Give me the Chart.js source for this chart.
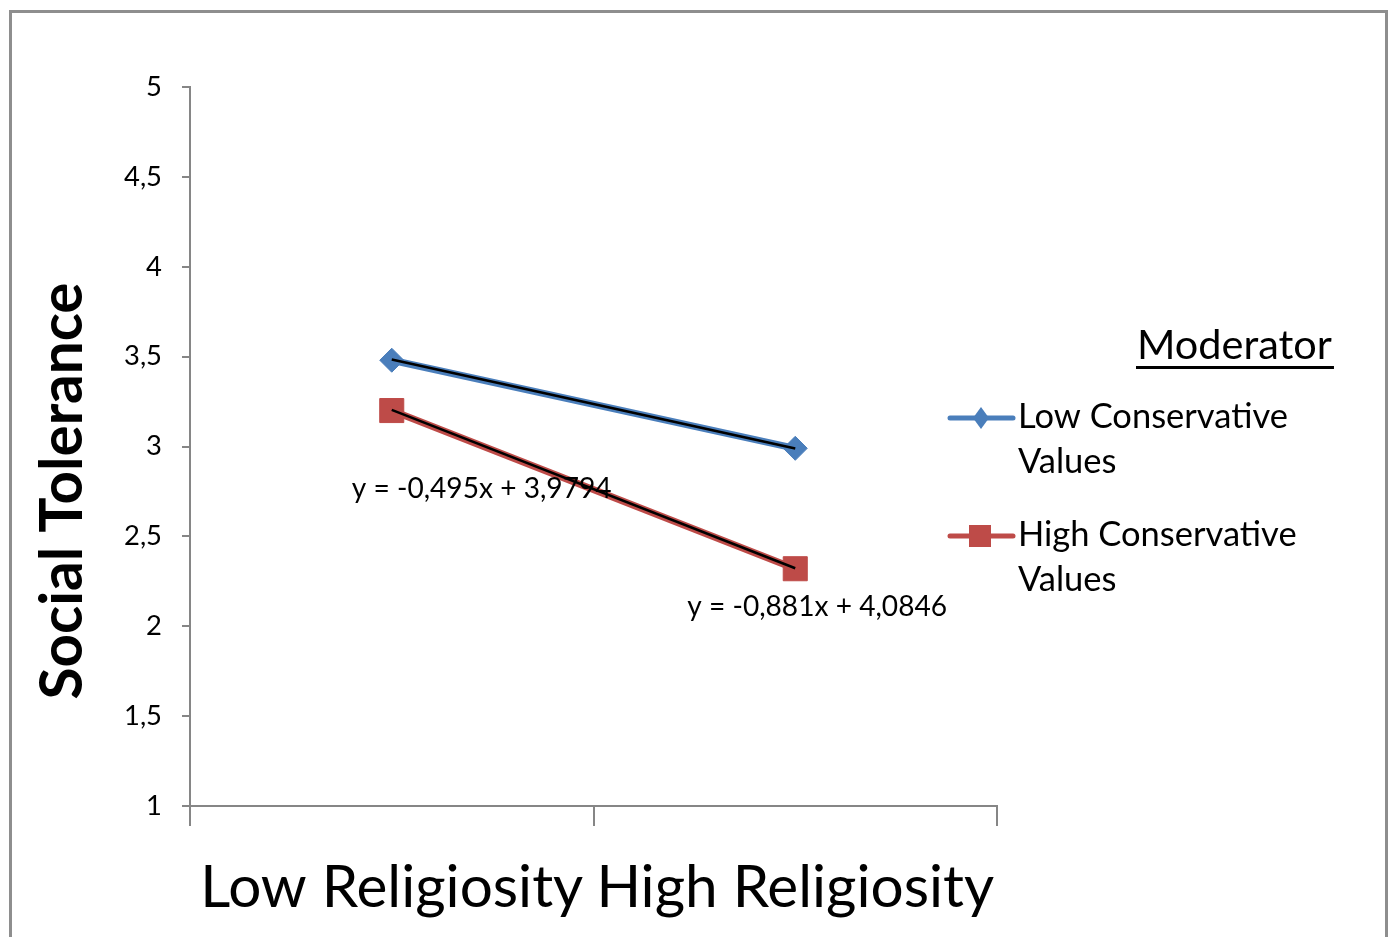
<!DOCTYPE html>
<html><head><meta charset="utf-8">
<script src="https://cdn.jsdelivr.net/npm/chart.js@4.4.1/dist/chart.umd.min.js"></script>
<style>html,body{margin:0;padding:0;background:#fff;} #wrap{position:relative;width:1391px;height:937px;}</style>
</head><body><div id="wrap"><canvas id="c"></canvas></div>
<script>
// ---- data ----
const categories = ['Low Religiosity', 'High Religiosity'];
const seriesLabels = ['Low Conservative Values', 'High Conservative Values'];
const legendLines = [['Low Conservative', 'Values'], ['High Conservative', 'Values']];
const lowConservative = [3.48, 2.99];
const highConservative = [3.20, 2.32];
const trendSlopes = [-0.495, -0.881];
const trendIntercepts = [3.9794, 4.0846];
const yTicks = [1, 1.5, 2, 2.5, 3, 3.5, 4, 4.5, 5];
const yAxisTitle = 'Social Tolerance';
const legendTitle = 'Moderator';

// ---- styles ----
const FONT = 'Lato';
const BLUE = '#4A7EBB';
const RED = '#BE4B48';
const AXIS = '#868686';
const fmt = v => String(v).replace('.', ',');
function fitSize(text, width, weight) {
  const c = document.createElement('canvas').getContext('2d');
  c.font = (weight || 'normal') + ' 100px ' + FONT;
  return 100 * width / c.measureText(text).width;
}
const SZ = {
  tickY: fitSize('4,5', 38),
  tickX: fitSize('Low Religiosity', 383),
  yTitle: fitSize(yAxisTitle, 417, 'bold'),
  eq: fitSize('y = -0,495x + 3,9794', 260),
  legend: fitSize('Low Conservative', 270),
  legendTitle: fitSize(legendTitle, 195)
};
const eqText = i => 'y = ' + fmt(trendSlopes[i]) + 'x + ' + fmt(trendIntercepts[i]);
const trendData = i => categories.map((c, k) => trendSlopes[i] * (k + 1) + trendIntercepts[i]);

const decoPlugin = {
  id: 'deco',
  beforeDraw(chart) {
    const ctx = chart.ctx;
    ctx.save();
    ctx.fillStyle = '#fff';
    ctx.fillRect(0, 0, chart.width, chart.height);
    ctx.strokeStyle = '#8e8e8e';
    ctx.lineWidth = 3;
    ctx.strokeRect(10.5, 11.5, 1376, 1000);
    ctx.restore();
  },
  afterDraw(chart) {
    const ctx = chart.ctx;
    const xs = chart.scales.x, ys = chart.scales.y;
    ctx.save();
    // y axis title
    ctx.translate(63, 491);
    ctx.rotate(-Math.PI / 2);
    ctx.font = 'bold ' + SZ.yTitle + 'px ' + FONT;
    ctx.fillStyle = '#000';
    ctx.textAlign = 'center';
    ctx.textBaseline = 'middle';
    ctx.fillText(yAxisTitle, 0, 0);
    ctx.restore();

    // trendline equations
    ctx.save();
    ctx.font = SZ.eq + 'px ' + FONT;
    ctx.fillStyle = '#000';
    ctx.textAlign = 'left';
    ctx.textBaseline = 'alphabetic';
    ctx.fillText(eqText(0), xs.getPixelForValue(0) - 40, ys.getPixelForValue(2.715));
    ctx.fillText(eqText(1), xs.getPixelForValue(1) - 108, ys.getPixelForValue(2.055));
    ctx.restore();

    // legend
    ctx.save();
    ctx.fillStyle = '#000';
    ctx.font = SZ.legendTitle + 'px ' + FONT;
    ctx.textBaseline = 'alphabetic';
    ctx.textAlign = 'left';
    ctx.fillText(legendTitle, 1137, 359);
    const tw = ctx.measureText(legendTitle).width;
    ctx.fillRect(1136, 366, tw + 3, 3);
    const series = chart.data.datasets.filter(d => !d.isTrend);
    series.forEach((ds, i) => {
      const ly = 418 + i * 118;
      ctx.strokeStyle = ds.borderColor;
      ctx.lineWidth = 5;
      ctx.lineCap = 'round';
      ctx.beginPath();
      ctx.moveTo(950, ly);
      ctx.lineTo(1013, ly);
      ctx.stroke();
      ctx.fillStyle = ds.borderColor;
      if (ds.pointStyle === 'rectRot') {
        ctx.beginPath();
        ctx.moveTo(981, ly - 11);
        ctx.lineTo(989, ly);
        ctx.lineTo(981, ly + 11);
        ctx.lineTo(973, ly);
        ctx.closePath();
        ctx.fill();
      } else {
        ctx.fillRect(969, ly - 11, 22, 22);
      }
      ctx.fillStyle = '#000';
      ctx.font = SZ.legend + 'px ' + FONT;
      legendLines[i].forEach((t, k) => ctx.fillText(t, 1018, ly + 10 + k * 45));
    });
    ctx.restore();
  }
};

new Chart(document.getElementById('c'), {
  type: 'line',
  data: {
    labels: categories,
    datasets: [
      { label: 'trend0', isTrend: true, data: trendData(0), borderColor: '#000', borderWidth: 2.5, pointRadius: 0, order: 0 },
      { label: 'trend1', isTrend: true, data: trendData(1), borderColor: '#000', borderWidth: 2.5, pointRadius: 0, order: 0 },
      { label: seriesLabels[0], data: lowConservative, borderColor: BLUE, backgroundColor: BLUE,
        pointBackgroundColor: BLUE, pointBorderColor: BLUE, borderWidth: 7, pointStyle: 'rectRot', pointRadius: 12, pointBorderWidth: 1, order: 1 },
      { label: seriesLabels[1], data: highConservative, borderColor: RED, backgroundColor: RED,
        pointBackgroundColor: RED, pointBorderColor: RED, borderWidth: 7, pointStyle: 'rect', pointRadius: 17, pointBorderWidth: 1, order: 1 }
    ]
  },
  options: {
    responsive: true, maintainAspectRatio: false, animation: false,
    layout: { padding: { left: 0, top: 87, right: 394, bottom: 0 } },
    plugins: { legend: { display: false }, tooltip: { enabled: false } },
    scales: {
      x: {
        offset: true,
        grid: { offset: true, drawOnChartArea: false, drawTicks: true, tickLength: 20, color: AXIS, lineWidth: 2 },
        border: { color: AXIS, width: 2 },
        ticks: { font: { family: FONT, size: SZ.tickX }, color: '#000', padding: 27, maxRotation: 0, autoSkip: false },
        afterFit(s) { s.height = 131; }
      },
      y: {
        min: 1, max: 5,
        afterBuildTicks(s) { s.ticks = yTicks.map(v => ({ value: v })); },
        ticks: { callback: v => fmt(v), font: { family: FONT, size: SZ.tickY }, color: '#000', padding: 20 },
        grid: { drawOnChartArea: false, tickLength: 8, color: AXIS, lineWidth: 2 },
        border: { color: AXIS, width: 2 },
        afterFit(s) { s.width = 190; }
      }
    }
  },
  plugins: [decoPlugin]
});
</script>
</body></html>
